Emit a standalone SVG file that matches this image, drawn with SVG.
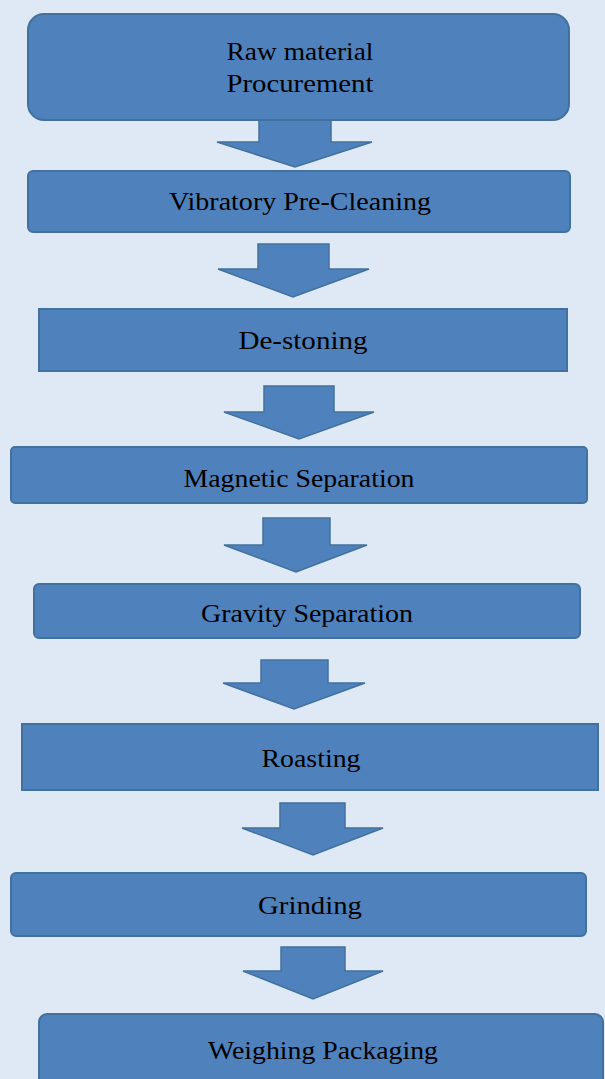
<svg xmlns="http://www.w3.org/2000/svg" width="605" height="1079" viewBox="0 0 605 1079">
<style>
.box{fill:#4f81bd;stroke:#41719c;stroke-width:2}
.arr{fill:#4f81bd;stroke:#41719c;stroke-width:1.5;stroke-linejoin:miter}
text{font-family:"Liberation Serif","Times New Roman",serif;font-size:25.5px;fill:#000;text-anchor:middle}
</style>
<rect width="605" height="1079" fill="#dfe9f5"/>
<g id="connectors">
<polygon class="arr" points="259,120 331,120 331,142 372,142 295,167 217,142 259,142"/>
<polygon class="arr" points="258,244 329,244 329,269 369,269 293,297 218,269 258,269"/>
<polygon class="arr" points="264,386 334,386 334,412 374,412 299,439 224,412 264,412"/>
<polygon class="arr" points="263,518 330,518 330,545 367,545 296,572 224,545 263,545"/>
<polygon class="arr" points="261,660 328,660 328,683 365,683 294,709 223,683 261,683"/>
<polygon class="arr" points="280,803 345,803 345,828 383,828 313,855 242,828 280,828"/>
<polygon class="arr" points="281,947 345,947 345,971 383,971 313,999 243,971 281,971"/>
</g>
<g id="n1"><rect class="box" x="28" y="14" width="541" height="106" rx="16"/><text x="300" y="60" textLength="147" lengthAdjust="spacingAndGlyphs">Raw material</text><text x="300" y="92" textLength="147" lengthAdjust="spacingAndGlyphs">Procurement</text></g>
<g id="n2"><rect class="box" x="28" y="171" width="542" height="61" rx="5"/><text x="300" y="210" textLength="262" lengthAdjust="spacingAndGlyphs">Vibratory Pre-Cleaning</text></g>
<g id="n3"><rect class="box" x="39" y="309" width="528" height="62"/><text x="303" y="349" textLength="129" lengthAdjust="spacingAndGlyphs">De-stoning</text></g>
<g id="n4"><rect class="box" x="11" y="447" width="576" height="56" rx="4"/><text x="299" y="487" textLength="231" lengthAdjust="spacingAndGlyphs">Magnetic Separation</text></g>
<g id="n5"><rect class="box" x="34" y="584" width="546" height="54" rx="5"/><text x="307" y="622" textLength="212" lengthAdjust="spacingAndGlyphs">Gravity Separation</text></g>
<g id="n6"><rect class="box" x="22" y="724" width="576" height="66"/><text x="311" y="767" textLength="99" lengthAdjust="spacingAndGlyphs">Roasting</text></g>
<g id="n7"><rect class="box" x="11" y="873" width="575" height="63" rx="5"/><text x="310" y="914" textLength="104" lengthAdjust="spacingAndGlyphs">Grinding</text></g>
<g id="n8"><rect class="box" x="39" y="1014" width="564" height="80" rx="8"/><text x="323" y="1059" textLength="230" lengthAdjust="spacingAndGlyphs">Weighing Packaging</text></g>
</svg>
